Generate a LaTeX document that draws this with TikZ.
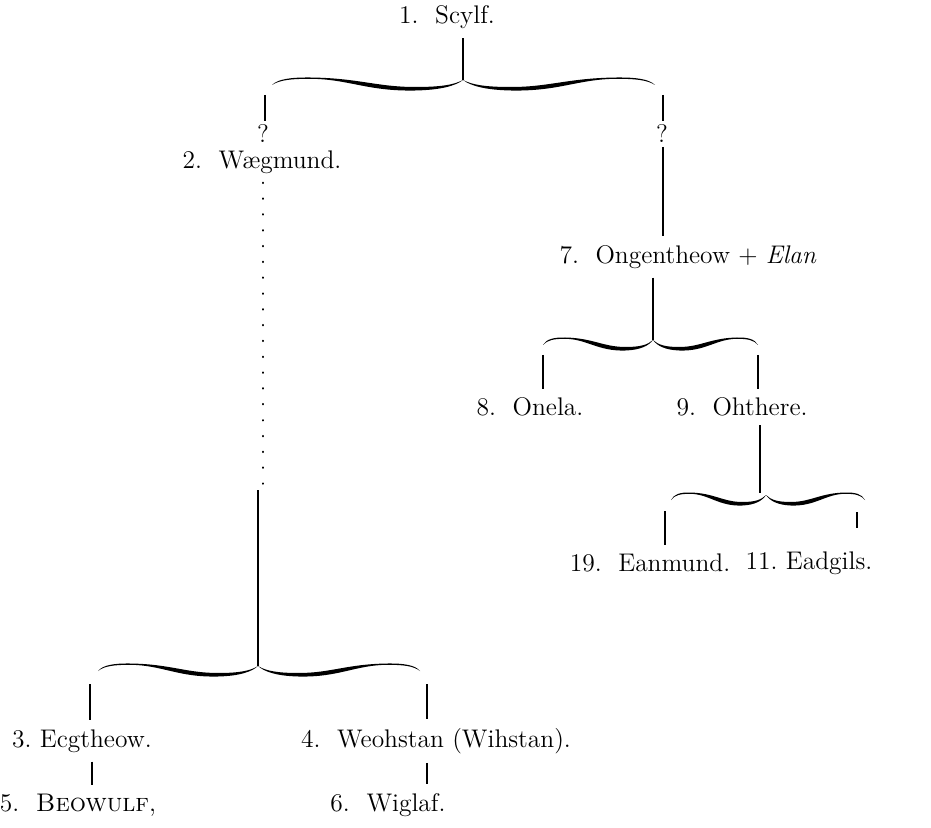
\documentclass[tikz,border=0pt]{standalone}
\usepackage{tikz}
\usetikzlibrary{positioning}

% one curly brace, tip at (#1,#2), half widths #3 (left) and #4 (right)
\newcommand{\famBrace}[4]{%
  \foreach \bsc in {-#3,#4}{%
    \fill[shift={(#1,#2)}, xscale=\bsc]
      (0,0) .. controls (0.05,5) and (0.12,7) .. (0.25,7)
            .. controls (0.45,7) and (0.55,-2) .. (0.8,-2.5)
            .. controls (0.9,-2.7) and (0.97,-1) .. (1,5)
            .. controls (0.96,0) and (0.9,-1.2) .. (0.8,-1.2)
            .. controls (0.6,-1) and (0.5,11.5) .. (0.25,10.5)
            .. controls (0.12,10) and (0.04,6) .. (0,0) -- cycle;
  }%
}

\begin{document}
\begin{tikzpicture}[
  x=0.02cm, y=-0.02cm,
  every node/.style={font=\fontsize{14.5}{17}\selectfont, inner sep=5pt},
  person/.style={anchor=center},
  line/.style={line width=0.7pt},
  dots/.style={line width=1.1pt, dash pattern=on 0.3pt off 8.7pt, line cap=round}
]
\useasboundingbox (0,0) rectangle (931,828);

% Scylf and the two unknown sons
\node[person] (scylf) at (447,17) {1.\ \ Scylf.};
\node[person, inner sep=2pt] (qL) at (263,134) {?};
\node[person, inner sep=2pt] (qR) at (662,134) {?};
\coordinate (brA) at (463,80);
\coordinate (brAl) at (265,95);
\coordinate (brAr) at (663,95);
\famBrace{463}{80}{191}{192}
\draw[line] (brA) -- (brA |- scylf.south);
\draw[line] (brAl) -- (brAl |- qL.north);
\draw[line] (brAr) -- (brAr |- qR.north);

% Waegmund's line
\node[person] (waeg) at (262,162) {2.\ \ W\ae gmund.};
\coordinate (dotA) at (263,406);
\coordinate (dotB) at (263,420);
\coordinate (brD) at (258,666);
\draw[dots] (waeg.south -| dotA) -- (dotA);
\draw[dots] (dotB) -- (263,490);
\draw[line] (258,490) -- (brD);
\famBrace{258}{666}{160}{162}

% Ecgtheow and Weohstan
\node[person] (ecg) at (82,741) {3.\ Ecgtheow.};
\node[person] (weoh) at (436,741) {4.\ \ Weohstan (Wihstan).};
\node[person] (beow) at (78,805) {5.\ \ \textsc{Beowulf},};
\node[person] (wigl) at (388,805) {6.\ \ Wiglaf.};
\coordinate (brDl) at (90,684);
\coordinate (brDr) at (427,684);
\draw[line] (brDl) -- (brDl |- ecg.north);
\draw[line] (brDr) -- (brDr |- weoh.north);
\draw[line] (ecg.south -| 92,0) -- (beow.north -| 92,0);
\draw[line] (weoh.south -| brDr) -- (wigl.north -| brDr);

% Ongentheow
\node[person] (ongen) at (688,257) {7.\ \ Ongentheow \(+\) \textit{Elan}};
\draw[line] (qR.south -| brAr) -- (ongen.north -| brAr);
\coordinate (brB) at (653,340);
\famBrace{653}{340}{110}{105}
\draw[line] (ongen.south -| brB) -- (brB);

% Onela and Ohthere
\node[person] (onela) at (530,407) {8.\ \ Onela.};
\node[person] (ohth) at (742,407) {9.\ \ Ohthere.};
\coordinate (brBl) at (543,355);
\coordinate (brBr) at (758,355);
\draw[line] (brBl) -- (brBl |- onela.north);
\draw[line] (brBr) -- (brBr |- ohth.north);

% Eanmund and Eadgils
\coordinate (brC) at (766,495);
\famBrace{766}{495}{95}{99}
\draw[line] (ohth.south -| 760,0) -- (760,493);
\node[person] (eanm) at (650,563) {19.\ \ Eanmund.};
\node[person] (eadg) at (809,563) {11.\ Eadgils.};
\coordinate (brCl) at (665,511);
\coordinate (brCr) at (857,512);
\draw[line] (brCl) -- (brCl |- eanm.north);
\draw[line width=1.3pt] (brCr) -- (857,528);

\end{tikzpicture}
\end{document}
